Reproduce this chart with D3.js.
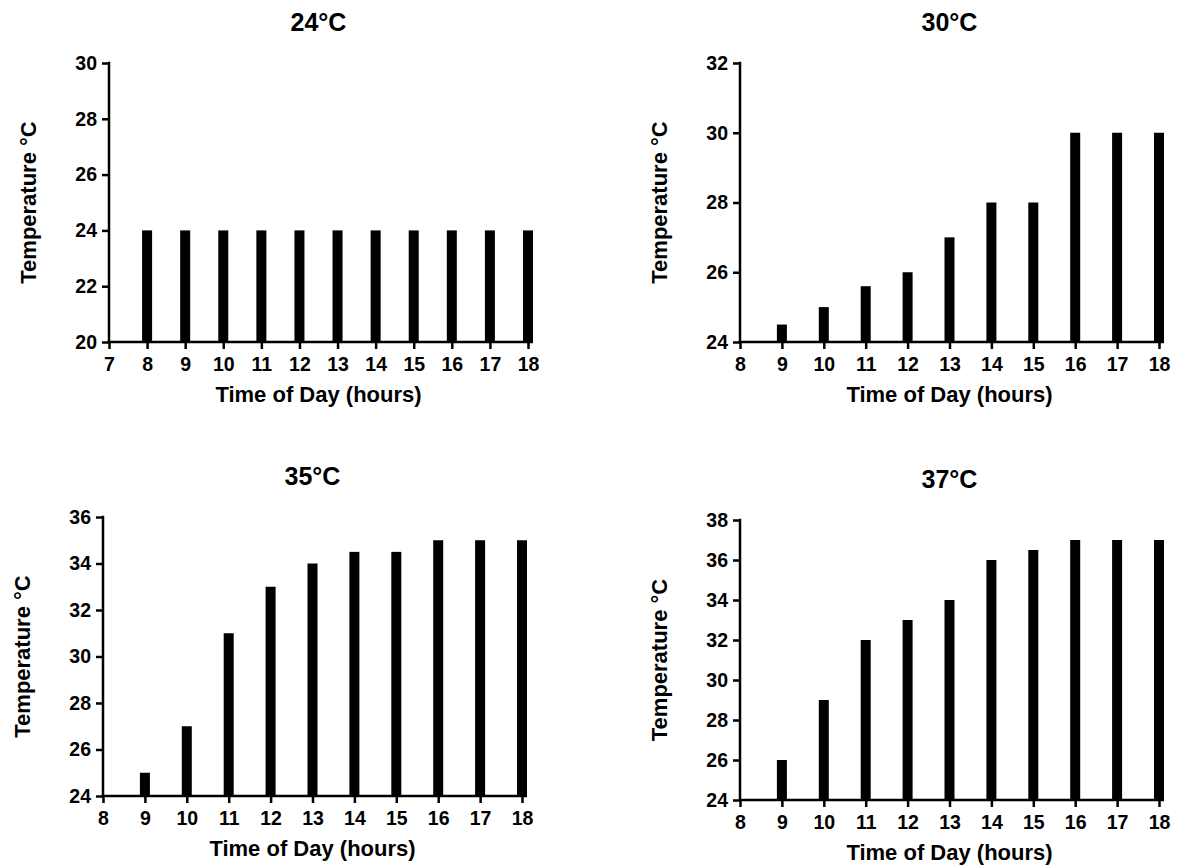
<!DOCTYPE html>
<html>
<head>
<meta charset="utf-8">
<script src="https://cdn.jsdelivr.net/npm/d3@7"></script>
<style>
  html, body { margin: 0; padding: 0; background: #fff; }
  svg { display: block; }
  text { font-family: "Liberation Sans", Arial, sans-serif; font-weight: bold; fill: #000; }
</style>
</head>
<body>
<svg id="chart" width="1184" height="865"></svg>
<script>
// ---- data ----
const titles = ["24°C", "30°C", "35°C", "37°C"];
const hours24 = [8, 9, 10, 11, 12, 13, 14, 15, 16, 17, 18];
const temps24 = [24, 24, 24, 24, 24, 24, 24, 24, 24, 24, 24];
const hours = [9, 10, 11, 12, 13, 14, 15, 16, 17, 18];
const temps30 = [24.5, 25, 25.6, 26, 27, 28, 28, 30, 30, 30];
const temps35 = [25, 27, 31, 33, 34, 34.5, 34.5, 35, 35, 35];
const temps37 = [26, 29, 32, 33, 34, 36, 36.5, 37, 37, 37];
const xTicks24 = [7, 8, 9, 10, 11, 12, 13, 14, 15, 16, 17, 18];
const xTicks = [8, 9, 10, 11, 12, 13, 14, 15, 16, 17, 18];
const yTicks24 = [20, 22, 24, 26, 28, 30];
const yTicks30 = [24, 26, 28, 30, 32];
const yTicks35 = [24, 26, 28, 30, 32, 34, 36];
const yTicks37 = [24, 26, 28, 30, 32, 34, 36, 38];
const xLabel = "Time of Day (hours)";
const yLabel = "Temperature °C";

// ---- layout ----
const panels = [
  { title: titles[0], xs: hours24, ys: temps24, xt: xTicks24, yt: yTicks24, left: 109, right: 528, top: 63, bottom: 342 },
  { title: titles[1], xs: hours, ys: temps30, xt: xTicks, yt: yTicks30, left: 740, right: 1159, top: 63, bottom: 342 },
  { title: titles[2], xs: hours, ys: temps35, xt: xTicks, yt: yTicks35, left: 103, right: 522, top: 517, bottom: 796 },
  { title: titles[3], xs: hours, ys: temps37, xt: xTicks, yt: yTicks37, left: 740, right: 1159, top: 520, bottom: 800 }
];
const barW = 10;
const sw = 2.5;

const svg = d3.select("#chart");

panels.forEach(p => {
  const x = d3.scaleLinear().domain(d3.extent(p.xt)).range([p.left, p.right]);
  const y = d3.scaleLinear().domain(d3.extent(p.yt)).range([p.bottom, p.top]);
  const g = svg.append("g");

  // bars
  g.selectAll("rect.bar").data(p.xs.map((h, i) => ({ h, v: p.ys[i] })))
    .enter().append("rect")
    .attr("x", d => x(d.h) - barW / 2)
    .attr("width", barW)
    .attr("y", d => y(d.v))
    .attr("height", d => y(y.domain()[0]) - y(d.v))
    .attr("fill", "#000");

  // x axis
  const xAxis = d3.axisBottom(x).tickValues(p.xt).tickSize(7).tickPadding(8).tickFormat(d3.format("d"));
  const gx = g.append("g").attr("transform", `translate(0,${p.bottom})`).call(xAxis);
  gx.select(".domain").remove();
  gx.append("line")
    .attr("x1", p.left - sw / 2).attr("x2", x(d3.max(p.xs)) + barW / 2)
    .attr("stroke", "#000").attr("stroke-width", sw);
  gx.selectAll(".tick line").attr("stroke", "#000").attr("stroke-width", sw);
  gx.selectAll(".tick text").attr("font-size", 19.5).style("font-family", "Liberation Sans, Arial, sans-serif").style("font-weight", "bold");

  // y axis
  const yAxis = d3.axisLeft(y).tickValues(p.yt).tickSize(7).tickPadding(5).tickFormat(d3.format("d"));
  const gy = g.append("g").attr("transform", `translate(${p.left},0)`).call(yAxis);
  gy.select(".domain").remove();
  gy.append("line")
    .attr("y1", p.top - sw / 2).attr("y2", p.bottom + sw / 2)
    .attr("stroke", "#000").attr("stroke-width", sw);
  gy.selectAll(".tick line").attr("stroke", "#000").attr("stroke-width", sw);
  gy.selectAll(".tick text").attr("font-size", 19.5).style("font-family", "Liberation Sans, Arial, sans-serif").style("font-weight", "bold");

  const cx = (p.left + p.right) / 2;
  // title
  g.append("text").attr("x", cx).attr("y", p.top - 32)
    .attr("text-anchor", "middle").attr("font-size", 25).text(p.title);
  // x label
  g.append("text").attr("x", cx).attr("y", p.bottom + 60)
    .attr("text-anchor", "middle").attr("font-size", 22).text(xLabel);
  // y label
  g.append("text")
    .attr("transform", `translate(${p.left - 73},${(p.top + p.bottom) / 2}) rotate(-90)`)
    .attr("text-anchor", "middle").attr("font-size", 22).text(yLabel);
});
</script>
</body>
</html>
